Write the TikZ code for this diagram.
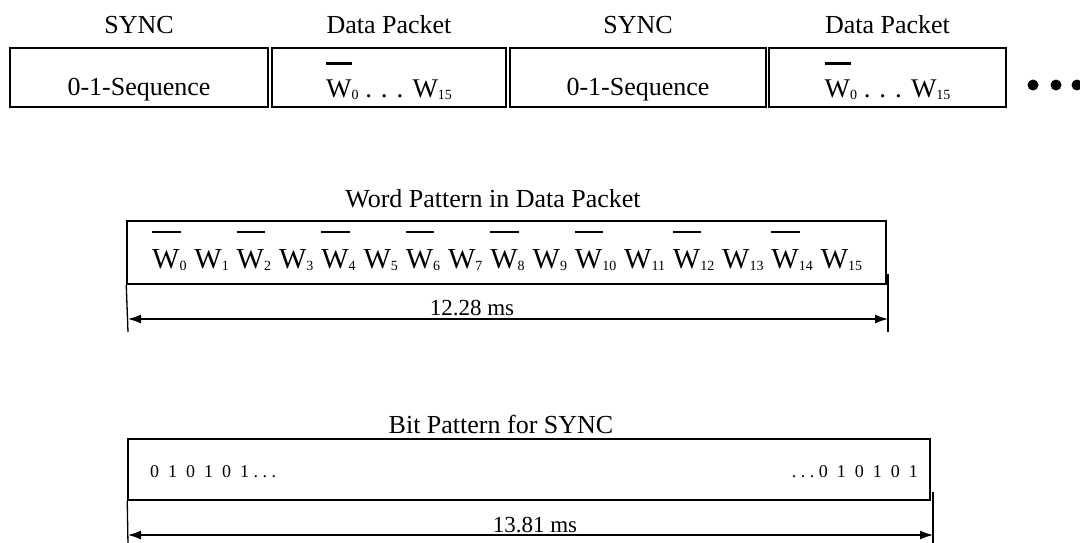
\documentclass[tikz,border=0pt]{standalone}
\usepackage{fontspec}
\setmainfont{Liberation Serif}
\usetikzlibrary{arrows.meta,positioning}
\tikzset{
  box/.style={draw,line width=1.5pt,inner sep=0pt},
  lbl/.style={anchor=base,inner sep=0pt,font=\fontsize{26}{30}\selectfont},
  dimlbl/.style={anchor=base,inner sep=0pt,font=\fontsize{23}{27}\selectfont},
  bits/.style={inner sep=0pt,font=\fontsize{18}{22}\selectfont},
  word/.style={anchor=base west,inner sep=0pt,font=\fontsize{29}{32}\selectfont},
  tick/.style={line width=1.3pt},
  dimline/.style={line width=1.3pt,{Latex[length=13pt,width=9pt]}-{Latex[length=13pt,width=9pt]}}
}
\newcommand{\wbar}{\rlap{\rule[1.2em]{0.98em}{0.085em}}W}
\newcommand{\wsub}[1]{\raisebox{-2.5pt}{\fontsize{14}{14}\selectfont #1}}

\begin{document}
\begin{tikzpicture}[x=1pt,y=-1pt]
\useasboundingbox (0,0) rectangle (1080,542);

% top row of packets
\node[box,minimum width=258pt,minimum height=59pt] (sync1) at (139,77.5) {};
\node[box,minimum width=234pt,minimum height=59pt] (data1) at (389,77.5) {};
\node[box,minimum width=256pt,minimum height=59pt] (sync2) at (638,77.5) {};
\node[box,minimum width=237pt,minimum height=59pt] (data2) at (887.5,77.5) {};

\foreach \n/\t in {sync1/SYNC,data1/Data Packet,sync2/SYNC,data2/Data Packet}
  \node[lbl] (\n-head) at (\n.center |- 0,33) {\t};

\foreach \n in {sync1,sync2}
  \node[lbl] (\n-text) at (\n.center |- 0,95) {0-1-Sequence};

\foreach \n in {data1,data2}
  \node[lbl,font=\fontsize{27}{30}\selectfont] (\n-text) at (\n.center |- 0,97) {\wbar\wsub{0} . . . W\wsub{15}};

% three dots at the end
\foreach \x in {1033,1056,1077}
  \fill (\x,85) circle[radius=5.5pt];

% word pattern
\node[lbl] (wordtitle) at (493,207) {Word Pattern in Data Packet};
\node[box,minimum width=759pt,minimum height=63pt] (wordbox) at (506.5,252.5) {};

\node[word] (w0) at (152,268) {\wbar\wsub{0}};
\foreach \i [remember=\i as \j (initially 0)] in {1,...,15}
  \node[word] (w\i) at ([xshift=7.5pt]w\j.base east)
    {\ifodd\i\relax W\else\wbar\fi\wsub{\i}};

\coordinate (wl-bot) at (128,332);
\coordinate (wr-top) at (888,274);
\coordinate (wr-bot) at (888,332);
\coordinate (wl-arr) at (128,319);
\coordinate (wr-arr) at (888,319);
\draw[tick] (wordbox.south west) -- (wl-bot);
\draw[tick] (wr-top) -- (wr-bot);
\draw[dimline] (wl-arr) -- (wr-arr);
\node[dimlbl] (wordtime) at (472,315) {12.28 ms};

% bit pattern
\node[lbl] (bittitle) at (501,433) {Bit Pattern for SYNC};
\node[box,minimum width=802pt,minimum height=61pt] (bitbox) at (529,469.5) {};

\node[bits,anchor=base west] (bitsleft) at (150,477) {0~~1~~0~~1~~0~~1~.~.~.};
\node[bits,anchor=base east] (bitsright) at (918,477) {.~.~.~0~~1~~0~~1~~0~~1};

\coordinate (bl-bot) at (128,545);
\coordinate (br-top) at (933,492);
\coordinate (br-bot) at (933,545);
\coordinate (bl-arr) at (128,535);
\coordinate (br-arr) at (933,535);
\draw[tick] (bitbox.south west) -- (bl-bot);
\draw[tick] (br-top) -- (br-bot);
\draw[dimline] (bl-arr) -- (br-arr);
\node[dimlbl] (bittime) at (535,532) {13.81 ms};

\end{tikzpicture}
\end{document}
